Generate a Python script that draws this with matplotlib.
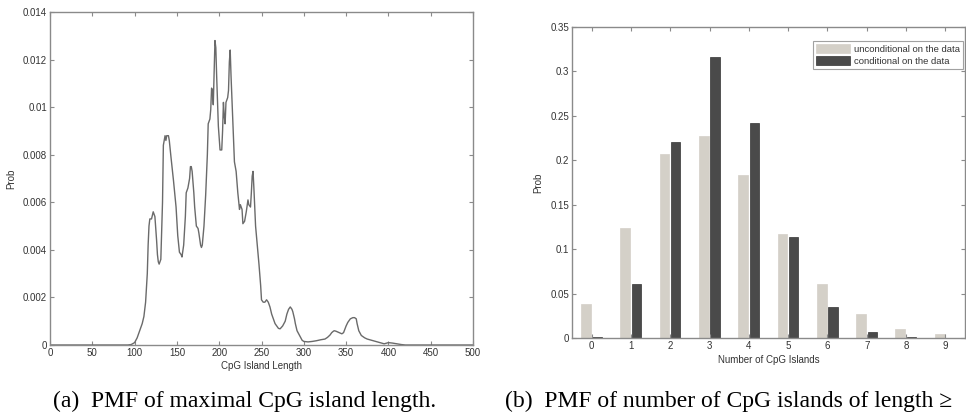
import matplotlib
matplotlib.use("Agg")
import matplotlib.pyplot as plt
from matplotlib.ticker import FuncFormatter
import numpy as np

# ---- Data: PMF of maximal CpG island length ----
length_x = [0, 50, 92, 96, 100, 103, 106, 109, 111, 113, 115, 116, 117, 118, 120,
            122, 124, 126, 127, 128, 129, 131, 133, 134, 136, 137, 138, 140, 141,
            143, 146, 149, 151, 153, 155, 156, 158, 160, 161, 163, 165, 166, 167,
            168, 170, 171, 173, 175, 176, 178, 179, 180, 182, 184, 186, 187, 189,
            190, 191, 192, 193, 194, 195, 196, 197, 199, 201, 203, 204, 205, 206,
            207, 208, 210, 211, 212, 213, 214, 216, 218, 220, 222, 224, 225, 227,
            228, 230, 232, 234, 235, 237, 238, 239, 240, 241, 243, 245, 247, 249,
            250, 252, 254, 256, 258, 260, 262, 264, 266, 268, 270, 272, 275, 278,
            280, 282, 284, 286, 287, 289, 290, 292, 295, 298, 300, 305, 310, 315,
            320, 325, 328, 331, 333, 335, 336, 338, 340, 343, 345, 347, 350, 352,
            355, 358, 360, 362, 363, 365, 368, 372, 375, 380, 385, 390, 395, 400,
            405, 410, 415, 420, 500]
length_p = [0, 0, 0, 0.00002, 0.0001, 0.0003, 0.0006, 0.0009, 0.0012, 0.0018, 0.003,
            0.0042, 0.005, 0.0053, 0.0053, 0.0056, 0.0054, 0.0044, 0.0038, 0.0035,
            0.0034, 0.0036, 0.0060, 0.0084, 0.0088, 0.0086, 0.0088, 0.0088, 0.0086,
            0.0079, 0.0069, 0.0058, 0.0046, 0.0039, 0.0038, 0.0037, 0.0042, 0.0054,
            0.0064, 0.0066, 0.0070, 0.0075, 0.0075, 0.0073, 0.0064, 0.0058, 0.0050,
            0.0049, 0.0047, 0.0042, 0.0041, 0.0042, 0.0050, 0.0063, 0.0080, 0.0093,
            0.0095, 0.0099, 0.0108, 0.0107, 0.0101, 0.0114, 0.0128, 0.0125, 0.0113,
            0.0092, 0.0082, 0.0082, 0.0090, 0.0102, 0.0096, 0.0093, 0.0102, 0.0104,
            0.0107, 0.0119, 0.0124, 0.0113, 0.0095, 0.0077, 0.0073, 0.0064, 0.0057,
            0.0059, 0.0057, 0.0051, 0.0052, 0.0056, 0.0061, 0.0059, 0.0058, 0.0064,
            0.0071, 0.0073, 0.0066, 0.0050, 0.0042, 0.0034, 0.0025, 0.0019, 0.0018,
            0.0018, 0.0019, 0.0018, 0.0016, 0.0013, 0.0011, 0.0009, 0.0008, 0.0007,
            0.00068, 0.0008, 0.001, 0.0013, 0.0015, 0.0016, 0.0015, 0.0014, 0.0011,
            0.0009, 0.0006, 0.0004, 0.0002, 0.00015, 0.00013, 0.00015, 0.00018,
            0.00022, 0.00025, 0.00032, 0.00042, 0.00052, 0.00058, 0.0006, 0.00058,
            0.00055, 0.0005, 0.00047, 0.00052, 0.0008, 0.00095, 0.0011, 0.00115,
            0.00115, 0.0011, 0.0009, 0.0006, 0.0004, 0.0003, 0.00025, 0.0002,
            0.00015, 0.0001, 0.00005, 0.0001, 0.00008, 0.00005, 0.00002, 0, 0]

# ---- Data: PMF of number of CpG islands ----
n_islands = [0, 1, 2, 3, 4, 5, 6, 7, 8, 9]
uncond = [0.038, 0.124, 0.207, 0.227, 0.183, 0.117, 0.061, 0.027, 0.010, 0.004]
cond = [0.001, 0.061, 0.221, 0.316, 0.242, 0.114, 0.035, 0.007, 0.001, 0.0005]
legend_labels = ["unconditional on the data", "conditional on the data"]

W, H = 966, 416
fig = plt.figure(figsize=(W / 100, H / 100), dpi=100)
plt.rcParams["font.family"] = ["Liberation Sans", "DejaVu Sans"]

spine_c = "#8a8a8a"
text_c = "#333333"
tick_fs = 7
lab_fs = 7

def style(ax):
    for s in ax.spines.values():
        s.set_color(spine_c)
        s.set_linewidth(1.0)
    ax.tick_params(direction="in", length=3, width=0.8, color=spine_c,
                   labelsize=tick_fs, labelcolor=text_c,
                   top=True, right=True, pad=2)

# Left panel
ax1 = fig.add_axes([50 / W, (H - 345) / H, 423 / W, 333 / H])
ax1.plot(length_x, length_p, color="#6a6a6a", lw=1.0)
ax1.set_xlim(0, 500)
ax1.set_ylim(0, 0.014)
ax1.set_xticks(np.arange(0, 501, 50))
ax1.set_yticks(np.arange(0, 0.0141, 0.002))
ax1.yaxis.set_major_formatter(FuncFormatter(lambda v, p: "%g" % round(v, 4)))
ax1.set_xlabel("CpG Island Length", fontsize=lab_fs, color=text_c, labelpad=2)
ax1.set_ylabel("Prob", fontsize=lab_fs, color=text_c, labelpad=5)
style(ax1)

# Right panel
ax2 = fig.add_axes([572 / W, (H - 338) / H, 393 / W, 311 / H])
x = np.array(n_islands)
ax2.bar(x - 0.145, uncond, width=0.25, color="#d4d0c8", edgecolor="#d4d0c8",
        linewidth=0.5, label=legend_labels[0])
ax2.bar(x + 0.14, cond, width=0.24, color="#4a4a4a", edgecolor="#333333",
        linewidth=0.5, label=legend_labels[1])
ax2.set_xlim(-0.5, 9.5)
ax2.set_ylim(0, 0.35)
ax2.set_xticks(n_islands)
ax2.set_yticks(np.arange(0, 0.351, 0.05))
ax2.yaxis.set_major_formatter(FuncFormatter(lambda v, p: "%g" % round(v, 3)))
ax2.set_xlabel("Number of CpG Islands", fontsize=lab_fs, color=text_c, labelpad=3)
ax2.set_ylabel("Prob", fontsize=lab_fs, color=text_c, labelpad=5)
style(ax2)
leg = ax2.legend(loc="upper right", fontsize=6.8, frameon=True, fancybox=False,
                 borderpad=0.35, handlelength=3.6, handleheight=1.1,
                 handletextpad=0.4, labelspacing=0.2,
                 bbox_to_anchor=(0.995, 0.955), borderaxespad=0.0)
leg.get_frame().set_edgecolor(spine_c)
leg.get_frame().set_linewidth(0.8)
for t in leg.get_texts():
    t.set_color(text_c)

# Captions
cap_font = dict(family="Liberation Serif", fontsize=17, color="black",
                va="center")
fig.text(53 / W, 1 - 401 / H, "(a)  PMF of maximal CpG island length.",
         ha="left", **cap_font)
fig.text(505 / W, 1 - 401 / H, "(b)  PMF of number of CpG islands of length \u2265",
         ha="left", **cap_font)

fig.savefig("out.png", dpi=100)
